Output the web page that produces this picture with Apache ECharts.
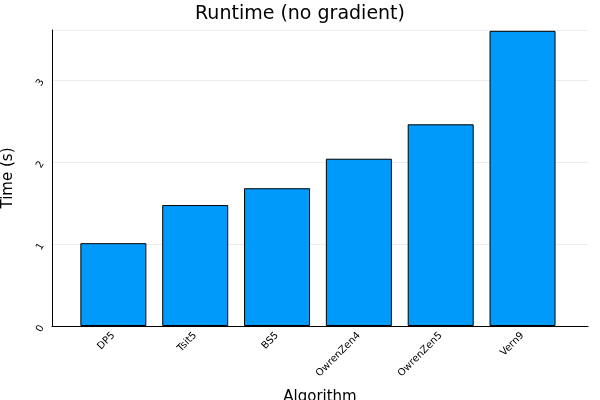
<!DOCTYPE html>
<html>
<head>
<meta charset="utf-8">
<script src="https://cdn.jsdelivr.net/npm/echarts@6/dist/echarts.min.js"></script>
<style>html,body{margin:0;padding:0;background:#fff}#c{width:600px;height:400px}</style>
</head>
<body>
<div id="c"></div>
<script>
var algorithms = ['DP5', 'Tsit5', 'BS5', 'OwrenZen4', 'OwrenZen5', 'Vern9'];
var times = [1.01, 1.475, 1.68, 2.04, 2.46, 3.6];
var yTicks = [0, 1, 2, 3];

var chart = echarts.init(document.getElementById('c'));
var font = 'DejaVu Sans';
chart.setOption({
  animation: false,
  backgroundColor: '#ffffff',
  textStyle: { fontFamily: font },
  title: {
    text: 'Runtime (no gradient)', left: 'center', top: 0,
    textStyle: { fontFamily: font, fontSize: 19, fontWeight: 'normal', color: '#000' }
  },
  grid: { left: 52, right: 12, top: 30, bottom: 74, containLabel: false, outerBoundsMode: 'none' },
  xAxis: {
    type: 'value', min: 0.25, max: 6.8, interval: 0.25,
    name: 'Algorithm', nameLocation: 'middle', nameGap: 64,
    nameTextStyle: { fontSize: 15, color: '#000' },
    axisLine: { show: true, onZero: false, lineStyle: { color: '#000' } },
    axisTick: { show: false },
    splitLine: { show: false },
    axisLabel: {
      rotate: 45, fontSize: 10, color: '#000', margin: 8,
      formatter: function (v) {
        return Number.isInteger(v) && v >= 1 && v <= algorithms.length ? algorithms[v - 1] : '';
      }
    }
  },
  yAxis: {
    type: 'value', min: 0, max: 3.61, interval: 1,
    name: 'Time (s)', nameLocation: 'middle', nameGap: 36,
    nameTextStyle: { fontSize: 15, color: '#000' },
    axisLine: { show: true, lineStyle: { color: '#000' } },
    axisTick: { show: false },
    splitLine: { show: true, lineStyle: { color: '#ececec' } },
    axisLabel: {
      rotate: 60, fontSize: 10, color: '#000', margin: 10,
      formatter: function (v) { return yTicks.indexOf(v) >= 0 ? String(v) : ''; },
      showMaxLabel: false
    }
  },
  series: [{
    type: 'bar',
    barWidth: 66,
    data: times.map(function (t, i) { return [i + 1, t]; }),
    itemStyle: { color: '#009afa', borderColor: '#000', borderWidth: 1 }
  }]
});
</script>
</body>
</html>
